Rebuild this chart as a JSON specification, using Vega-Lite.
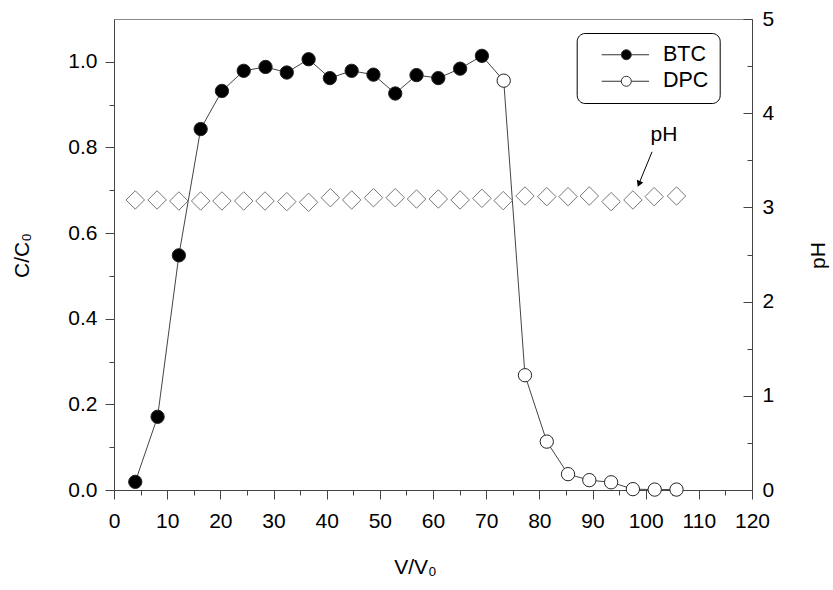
{
  "$schema": "https://vega.github.io/schema/vega-lite/v6.json",
  "width": 638,
  "height": 471,
  "autosize": {"type": "none"},
  "padding": {"left": 114, "top": 19, "right": 81, "bottom": 100},
  "background": "white",
  "config": {
    "font": "Liberation Sans",
    "view": {"stroke": "#888", "strokeWidth": 1},
    "axis": {
      "grid": false,
      "domainColor": "#444",
      "tickColor": "#444",
      "labelColor": "#000",
      "titleColor": "#000",
      "labelFontSize": 21,
      "titleFontSize": 21,
      "titleFontWeight": "normal",
      "labelFont": "Liberation Sans",
      "titleFont": "Liberation Sans",
      "labelOverlap": false,
      "labelFlush": false
    }
  },
  "datasets": {
    "curve": [
      {"series": "BTC", "v": 4.0, "c": 0.019},
      {"series": "BTC", "v": 8.2, "c": 0.171},
      {"series": "BTC", "v": 12.2, "c": 0.548},
      {"series": "BTC", "v": 16.3, "c": 0.843},
      {"series": "BTC", "v": 20.3, "c": 0.932},
      {"series": "BTC", "v": 24.4, "c": 0.979},
      {"series": "BTC", "v": 28.5, "c": 0.988},
      {"series": "BTC", "v": 32.5, "c": 0.975},
      {"series": "BTC", "v": 36.6, "c": 1.006},
      {"series": "BTC", "v": 40.6, "c": 0.962},
      {"series": "BTC", "v": 44.7, "c": 0.979},
      {"series": "BTC", "v": 48.8, "c": 0.970},
      {"series": "BTC", "v": 52.9, "c": 0.926},
      {"series": "BTC", "v": 56.9, "c": 0.969},
      {"series": "BTC", "v": 61.0, "c": 0.962},
      {"series": "BTC", "v": 65.1, "c": 0.984},
      {"series": "BTC", "v": 69.2, "c": 1.014},
      {"series": "DPC", "v": 73.3, "c": 0.956},
      {"series": "DPC", "v": 77.3, "c": 0.268},
      {"series": "DPC", "v": 81.4, "c": 0.113},
      {"series": "DPC", "v": 85.4, "c": 0.037},
      {"series": "DPC", "v": 89.4, "c": 0.023},
      {"series": "DPC", "v": 93.5, "c": 0.018},
      {"series": "DPC", "v": 97.6, "c": 0.002},
      {"series": "DPC", "v": 101.7, "c": 0.001},
      {"series": "DPC", "v": 105.8, "c": 0.001}
    ],
    "ph": [
      {"v": 4.0, "ph": 3.079},
      {"v": 8.1, "ph": 3.079},
      {"v": 12.2, "ph": 3.068},
      {"v": 16.3, "ph": 3.068},
      {"v": 20.3, "ph": 3.068},
      {"v": 24.4, "ph": 3.068},
      {"v": 28.4, "ph": 3.068},
      {"v": 32.5, "ph": 3.061},
      {"v": 36.6, "ph": 3.054},
      {"v": 40.7, "ph": 3.103},
      {"v": 44.7, "ph": 3.079},
      {"v": 48.8, "ph": 3.103},
      {"v": 52.9, "ph": 3.103},
      {"v": 56.9, "ph": 3.089},
      {"v": 61.0, "ph": 3.089},
      {"v": 65.1, "ph": 3.079},
      {"v": 69.2, "ph": 3.096},
      {"v": 73.2, "ph": 3.072},
      {"v": 77.3, "ph": 3.121},
      {"v": 81.4, "ph": 3.114},
      {"v": 85.4, "ph": 3.114},
      {"v": 89.4, "ph": 3.121},
      {"v": 93.5, "ph": 3.061},
      {"v": 97.6, "ph": 3.079},
      {"v": 101.6, "ph": 3.114},
      {"v": 105.8, "ph": 3.121}
    ],
    "arrow": [
      {"x": 101.2, "y": 3.59, "x2": 98.73, "y2": 3.25}
    ],
    "label": [
      {"x": 103.45, "ph": 3.708, "t": "pH"}
    ]
  },
  "layer": [
    {
      "data": {"name": "curve"},
      "mark": {"type": "line", "color": "#444", "strokeWidth": 1},
      "encoding": {
        "x": {
          "field": "v", "type": "quantitative",
          "scale": {"domain": [0, 120], "nice": false},
          "axis": {
            "orient": "bottom",
            "values": [0, 10, 20, 30, 40, 50, 60, 70, 80, 90, 100, 110, 120],
            "tickSize": 9, "labelPadding": 11,
            "title": "V/V₀", "titleX": 301, "titleY": 83,
            "titleAlign": "center", "titleBaseline": "alphabetic"
          }
        },
        "y": {
          "field": "c", "type": "quantitative",
          "scale": {"domain": [0, 1.1], "nice": false},
          "axis": {
            "orient": "left",
            "values": [0, 0.2, 0.4, 0.6, 0.8, 1.0],
            "format": ".1f",
            "tickSize": 9, "labelPadding": 8,
            "title": "C/C₀", "titleX": -92, "titleY": 236,
            "titleAngle": -90, "titleAlign": "center", "titleBaseline": "middle"
          }
        }
      }
    },
    {
      "data": {"name": "curve"},
      "mark": {"type": "point", "filled": true, "size": 177, "stroke": "#222", "strokeWidth": 1, "opacity": 1},
      "encoding": {
        "x": {
          "field": "v", "type": "quantitative",
          "scale": {"domain": [0, 120], "nice": false},
          "axis": {
            "orient": "bottom",
            "values": [5, 15, 25, 35, 45, 55, 65, 75, 85, 95, 105, 115],
            "tickSize": 5, "labels": false, "domain": false, "title": null
          }
        },
        "y": {
          "field": "c", "type": "quantitative",
          "scale": {"domain": [0, 1.1], "nice": false},
          "axis": {
            "orient": "left",
            "values": [0.1, 0.3, 0.5, 0.7, 0.9],
            "tickSize": 5, "labels": false, "domain": false, "title": null
          }
        },
        "fill": {
          "field": "series", "type": "nominal",
          "scale": {"domain": ["BTC", "DPC"], "range": ["#000000", "#ffffff"]},
          "legend": {
            "title": null,
            "orient": "none",
            "legendX": 462.7,
            "legendY": 14,
            "direction": "vertical",
            "padding": 11,
            "strokeColor": "#000",
            "cornerRadius": 8,
            "fillColor": "#fff",
            "symbolType": "M0.65,0L4.57,0M6.57,0L10.11,0M4.57,0A1,1,0,1,1,6.57,0A1,1,0,1,1,4.57,0Z",
            "symbolSize": 100,
            "symbolStrokeColor": "#333",
            "symbolStrokeWidth": 1,
            "labelFontSize": 21.5,
            "labelFont": "Liberation Sans",
            "labelColor": "#000",
            "labelOffset": 53.8,
            "rowPadding": 3.5,
            "labelExpr": "datum.label + '    '"
          }
        }
      }
    },
    {
      "data": {"name": "ph"},
      "mark": {"type": "point", "shape": "diamond", "size": 340, "filled": false, "stroke": "#777", "strokeWidth": 1, "opacity": 1},
      "encoding": {
        "x": {"field": "v", "type": "quantitative", "scale": {"domain": [0, 120], "nice": false}, "axis": null},
        "y": {
          "field": "ph", "type": "quantitative",
          "scale": {"domain": [0, 5], "nice": false},
          "axis": {
            "orient": "right",
            "values": [0, 1, 2, 3, 4, 5],
            "tickSize": -9, "labelPadding": 19,
            "title": "pH", "titleAngle": -90, "titleX": 66, "titleY": 236,
            "titleAlign": "center", "titleBaseline": "middle"
          }
        }
      }
    },
    {
      "data": {"name": "arrow"},
      "mark": {"type": "rule", "color": "#000", "strokeWidth": 1},
      "encoding": {
        "x": {"field": "x", "type": "quantitative", "scale": {"domain": [0, 120], "nice": false}, "axis": null},
        "x2": {"field": "x2"},
        "y": {
          "field": "y", "type": "quantitative",
          "scale": {"domain": [0, 5], "nice": false},
          "axis": {
            "orient": "right",
            "values": [0.5, 1.5, 2.5, 3.5, 4.5],
            "tickSize": -5, "labels": false, "domain": false, "title": null
          }
        },
        "y2": {"field": "y2"}
      }
    },
    {
      "data": {"name": "arrow"},
      "mark": {"type": "point", "shape": "triangle-up", "angle": 202.4, "size": 49, "filled": true, "color": "#000", "opacity": 1},
      "encoding": {
        "x": {"field": "x2", "type": "quantitative", "scale": {"domain": [0, 120], "nice": false}, "axis": null},
        "y": {"field": "y2", "type": "quantitative", "scale": {"domain": [0, 5], "nice": false}, "axis": null}
      }
    },
    {
      "data": {"name": "label"},
      "mark": {"type": "text", "font": "Liberation Sans", "fontSize": 21, "align": "center", "baseline": "alphabetic", "color": "#000"},
      "encoding": {
        "x": {"field": "x", "type": "quantitative", "scale": {"domain": [0, 120], "nice": false}, "axis": null},
        "y": {"field": "ph", "type": "quantitative", "scale": {"domain": [0, 5], "nice": false}, "axis": null},
        "text": {"field": "t"}
      }
    }
  ],
  "resolve": {
    "scale": {"y": "independent"},
    "axis": {"x": "independent", "y": "independent"}
  }
}
